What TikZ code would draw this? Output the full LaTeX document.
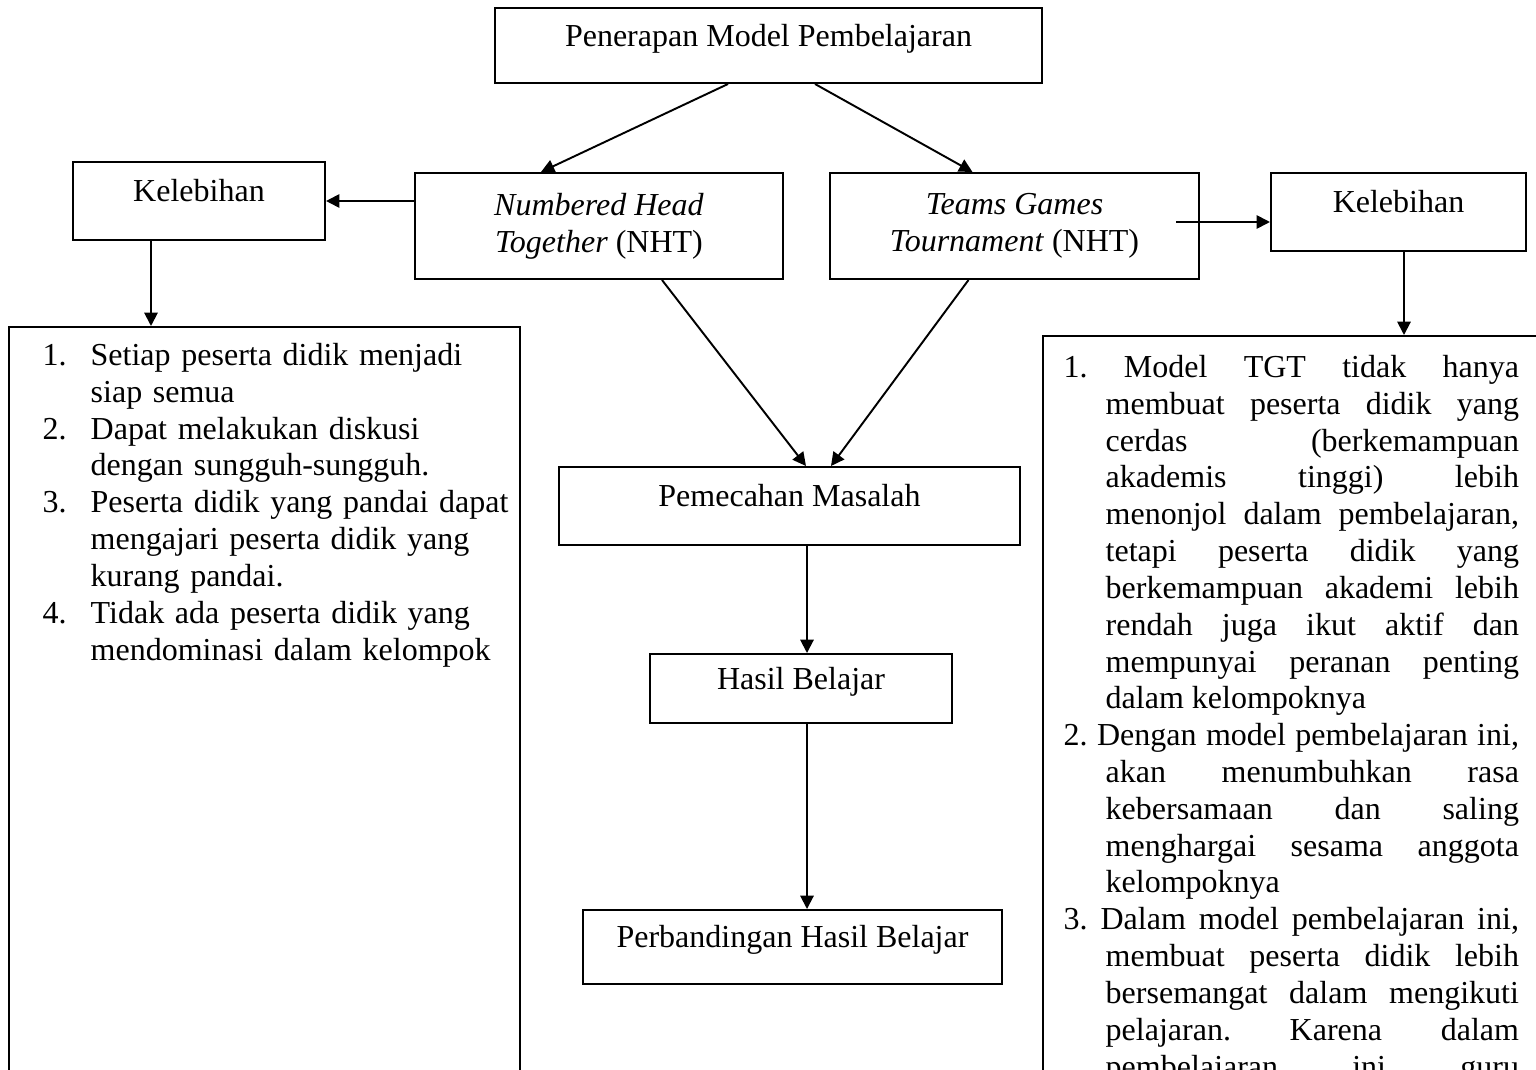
\documentclass[tikz,border=0pt]{standalone}
\usepackage{fontspec}
\setmainfont{Liberation Serif}
\usetikzlibrary{arrows.meta,calc,positioning}
\frenchspacing

\newcommand{\advitem}[1]{\par\noindent\hangindent=0.48cm\hangafter=1\makebox[0.48cm][l]{#1}}
\newcommand{\advitemR}{\par\noindent\hangindent=0.42cm\hangafter=1\relax}

\begin{document}
\begin{tikzpicture}[
  x=0.01cm, y=-0.01cm,
  font=\fontsize{9.1}{10.47}\selectfont,
  arrow/.style={-{Triangle[length=3.8pt,width=3.8pt]}, line width=0.55pt},
  box/.style={draw, line width=0.55pt, inner sep=0pt, align=center},
  onebox/.style={draw, line width=0.55pt, inner sep=0pt, text height=7pt, text depth=6.5pt},
  listbox/.style={draw, line width=0.55pt, anchor=north west, inner sep=0pt},
  listtext/.style={anchor=north west, inner sep=0pt}
]
\useasboundingbox (0,0) rectangle (1536,1070);
\clip (0,0) rectangle (1536,1070);

% Boxes
\node[onebox, minimum width=5.47cm, minimum height=0.75cm] (model) at (768.5,45.5) {Penerapan Model Pembelajaran};
\node[onebox, minimum width=2.52cm, minimum height=0.78cm] (kelL) at (199,201) {Kelebihan};
\node[box, minimum width=3.68cm, minimum height=1.06cm] (nht) at (599,226) {\textit{Numbered Head}\\\textit{Together} (NHT)};
\node[box, minimum width=3.69cm, minimum height=1.06cm] (tgt) at (1014.5,226) {\textit{Teams Games}\\\textit{Tournament} (NHT)};
\node[onebox, minimum width=2.55cm, minimum height=0.78cm] (kelR) at (1398.5,212) {Kelebihan};
\node[onebox, minimum width=4.61cm, minimum height=0.78cm] (masalah) at (789.5,506) {Pemecahan Masalah};
\node[onebox, minimum width=3.02cm, minimum height=0.69cm] (hasil) at (801,688.5) {Hasil Belajar};
\node[onebox, minimum width=4.19cm, minimum height=0.74cm] (banding) at (792.5,947) {Perbandingan Hasil Belajar};

% Lists of advantages
\node[listbox, minimum width=5.11cm, minimum height=8cm] (advL) at (8,326) {};
\node[listbox, minimum width=5.3cm, minimum height=8cm] (advR) at (1042,335) {};

\node[listtext, text width=4.7cm, align=left] (itemsL) at (42,328) {%
  \hyphenpenalty=10000
  \advitem{1.}Setiap peserta didik menjadi\newline siap semua
  \advitem{2.}Dapat melakukan diskusi\newline dengan sungguh-sungguh.
  \advitem{3.}Peserta didik yang pandai dapat\newline mengajari peserta didik yang\newline kurang pandai.
  \advitem{4.}Tidak ada peserta didik yang\newline mendominasi dalam kelompok\par};

\node[listtext, text width=4.55cm, align=justify] (itemsR) at (1063,340) {%
  \tolerance=10000 \hyphenpenalty=10000
  \advitemR 1. Model TGT tidak hanya\linebreak membuat peserta didik yang\linebreak
  cerdas (berkemampuan\linebreak akademis tinggi) lebih\linebreak
  menonjol dalam pembelajaran,\linebreak tetapi peserta didik yang\linebreak
  berkemampuan akademi lebih\linebreak rendah juga ikut aktif dan\linebreak
  mempunyai peranan penting\linebreak dalam kelompoknya
  \advitemR 2. Dengan model pembelajaran ini,\linebreak akan menumbuhkan rasa\linebreak
  kebersamaan dan saling\linebreak menghargai sesama anggota\linebreak kelompoknya
  \advitemR 3. Dalam model pembelajaran ini,\linebreak membuat peserta didik lebih\linebreak
  bersemangat dalam mengikuti\linebreak pelajaran. Karena dalam\linebreak
  pembelajaran ini guru\linebreak\par};

% Connectors
\draw[arrow] ($(model.south)+(-40.5,0)$) -- ($(nht.north)+(-58,0)$);
\draw[arrow] ($(model.south)+(46.5,0)$) -- ($(tgt.north)+(-42,0)$);
\draw[arrow] (nht.west |- kelL.east) -- (kelL.east);
\draw[arrow] ($(kelL.south)+(-48,0)$) -- ($(kelL.south |- advL.north)+(-48,0)$);
\draw[arrow] ($(tgt.east |- kelR.west)+(-24,10)$) -- ($(kelR.west)+(0,10)$);
\draw[arrow] ($(kelR.south)+(5.5,0)$) -- ($(kelR.south |- advR.north)+(5.5,0)$);
\draw[arrow] ($(nht.south)+(63,0)$) -- ($(masalah.north)+(16.5,0)$);
\draw[arrow] ($(tgt.south)+(-46,0)$) -- ($(masalah.north)+(41.5,0)$);
\draw[arrow] ($(masalah.south)+(17.5,0)$) -- ($(hasil.north)+(6,0)$);
\draw[arrow] ($(hasil.south)+(6,0)$) -- ($(banding.north)+(14.5,0)$);

\end{tikzpicture}
\end{document}
